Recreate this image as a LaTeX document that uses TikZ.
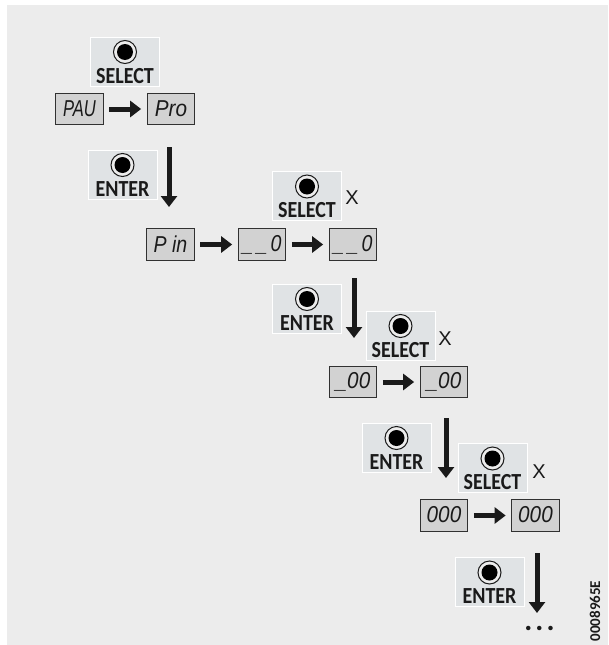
\documentclass[tikz,border=0pt]{standalone}
\usepackage{fontspec}
\setmainfont{Carlito}
\newfontfamily\segfont{Liberation Sans}
\newfontfamily\plainfont{Liberation Sans}
\usetikzlibrary{arrows.meta}
\definecolor{panelc}{HTML}{ECECEC}
\definecolor{btnc}{HTML}{E0E3E5}
\definecolor{dispc}{HTML}{D2D2D2}
\definecolor{inkc}{HTML}{1A1A1A}
\tikzset{
  x=1pt,y=-1pt,
  btnbox/.style={fill=btnc,draw=white,line width=.5pt,minimum width=69pt,minimum height=49pt,inner sep=0pt},
  btnlabel/.style={font=\fontsize{23}{23}\selectfont\bfseries,text=inkc,inner sep=0pt,xscale=.87},
  ringmark/.style={circle,draw=inkc,fill=panelc,line width=1pt,minimum size=23pt,inner sep=0pt},
  dotmark/.style={circle,fill=black,minimum size=16pt,inner sep=0pt},
  disp/.style={fill=dispc,draw=inkc!90,line width=1.2pt,minimum width=47.5pt,minimum height=31.5pt,inner sep=0pt,
    font=\segfont\itshape\fontsize{23}{23}\selectfont,text=inkc},
  flow/.style={-{Triangle[length=11pt,width=16pt]},line width=5pt,draw=inkc,color=inkc},
  hflow/.style={flow,shorten <=5.5pt,shorten >=5.5pt},
  xmark/.style={font=\plainfont\fontsize{20}{20}\selectfont,text=inkc,inner sep=0pt},
}
\newcommand{\btn}[4]{%
  \node[btnbox] (#1) at (#2,#3) {};
  \node[ringmark] (#1r) at (#2,#3-9.5) {};
  \node[dotmark] (#1d) at (#2,#3-9.5) {};
  \node[btnlabel] (#1t) at (#2,#3+14.5) {#4};
}
\newcommand{\seg}[2]{\raisebox{1.5pt}{\scalebox{#1}[1]{#2}}}
\begin{document}
\begin{tikzpicture}
\useasboundingbox (0,0) rectangle (608,645);
\fill[white] (0,0) rectangle (608,645);
\fill[panelc] (7,5) rectangle (608,645);

\btn{s1}{125}{61.5}{SELECT}
\btn{e1}{122.5}{174.5}{ENTER}
\btn{s2}{307}{196}{SELECT}
\btn{e2}{307}{308.5}{ENTER}
\btn{s3}{400.5}{335.5}{SELECT}
\btn{e3}{396.5}{447.5}{ENTER}
\btn{s4}{492.5}{468}{SELECT}
\btn{e4}{489.5}{582}{ENTER}

\node[disp] (d1) at (79.5,109) {\seg{.72}{PAU}};
\node[disp] (d2) at (171,109) {\seg{.9}{Pro}};
\node[disp] (d3) at (170.5,244.5) {\seg{.85}{P in}};
\node[disp] (d4) at (262,244.5) {\seg{.85}{\_\,\_\,0}};
\node[disp] (d5) at (353,244.5) {\seg{.85}{\_\,\_\,0}};
\node[disp] (d6) at (353,382) {\seg{.9}{\_00}};
\node[disp] (d7) at (444,382) {\seg{.9}{\_00}};
\node[disp] (d8) at (444,515.5) {\seg{.9}{000}};
\node[disp] (d9) at (535.5,515.5) {\seg{.9}{000}};

\draw[hflow] (d1) -- (d2);
\draw[hflow] (d3) -- (d4);
\draw[hflow] (d4) -- (d5);
\draw[hflow] (d6) -- (d7);
\draw[hflow] (d8) -- (d9);

\coordinate (v1a) at (169,147);
\coordinate (v1b) at (169,207);
\coordinate (v2a) at (354,278);
\coordinate (v2b) at (354,338);
\coordinate (v3a) at (446,418);
\coordinate (v3b) at (446,478);
\coordinate (v4a) at (537,553);
\coordinate (v4b) at (537,613);
\draw[flow] (v1a) -- (v1b);
\draw[flow] (v2a) -- (v2b);
\draw[flow] (v3a) -- (v3b);
\draw[flow] (v4a) -- (v4b);

\node[xmark] (x1) at (352,198) {X};
\node[xmark] (x2) at (445,339) {X};
\node[xmark] (x3) at (539,472) {X};

\node[font=\fontsize{30}{30}\selectfont\bfseries,inner sep=0pt,text=inkc,anchor=base] (more) at (539.5,630) {.\hspace{3pt}.\hspace{3pt}.};
\node[rotate=90,font=\fontsize{15}{15}\selectfont\bfseries,inner sep=0pt,text=inkc] (code) at (595,611) {0008965E};
\end{tikzpicture}
\end{document}
